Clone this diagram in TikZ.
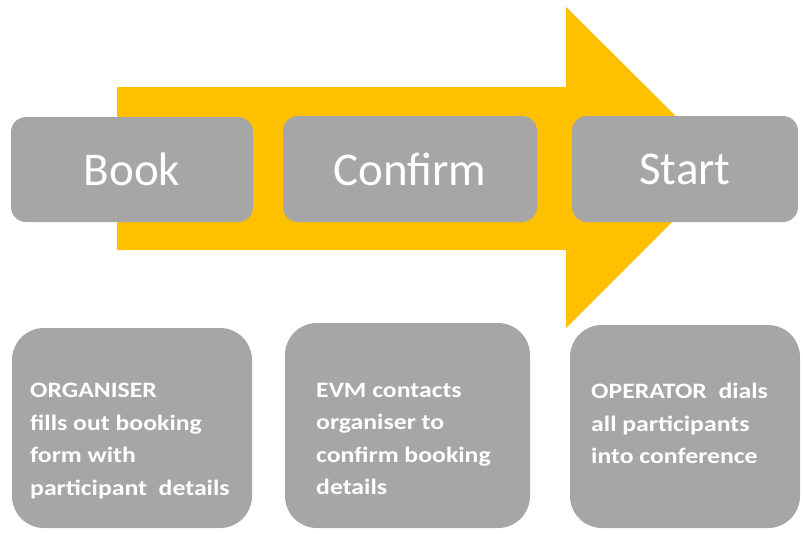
\documentclass[tikz,border=0pt]{standalone}
\usepackage{fontspec}
\setmainfont{Carlito}
\newfontfamily\infofont[FakeStretch=1.17]{Carlito}
\definecolor{stepgray}{HTML}{A6A6A6}
\definecolor{arrowyellow}{HTML}{FFC000}
\begin{document}
\begin{tikzpicture}[x=1pt,y=-1pt,
    stepbox/.style={fill=stepgray, rounded corners=15pt, inner sep=0pt,
      text=white, font=\fontsize{47}{52}\selectfont},
    infobox/.style={fill=stepgray, rounded corners=32pt, inner sep=0pt},
    infotext/.style={text=white, align=left, inner sep=0pt, anchor=north west,
      font=\infofont\bfseries\fontsize{22}{32.5}\selectfont}]
  \useasboundingbox (0,0) rectangle (803,533);
  % big arrow behind the steps
  \fill[arrowyellow] (117,87) -- (566,87) -- (566,7) -- (727,167)
    -- (566,328) -- (566,250) -- (117,250) -- cycle;
  % steps
  \node[stepbox, minimum width=242pt, minimum height=105pt] (book) at (132,169.5) {Book};
  \node[stepbox, minimum width=254pt, minimum height=106pt] (confirm) at (410,169) {Confirm};
  \node[stepbox, minimum width=226pt, minimum height=106pt] (start) at (685,169) {Start};
  % details
  \node[infobox, minimum width=240pt, minimum height=200pt] (bookinfo) at (132,428) {};
  \node[infobox, minimum width=245pt, minimum height=205pt] (confirminfo) at (407.5,425.5) {};
  \node[infobox, minimum width=230pt, minimum height=203pt] (startinfo) at (685,426.5) {};
  \node[infotext] at (30,383)
    {ORGANISER\\fills out booking\\form with\\participant\ \ details};
  \node[infotext] at (316,383)
    {EVM contacts\\organiser to\\confirm booking\\details};
  \node[infotext] at (591,383)
    {OPERATOR\ \ dials\\all participants\\into conference};
\end{tikzpicture}
\end{document}
